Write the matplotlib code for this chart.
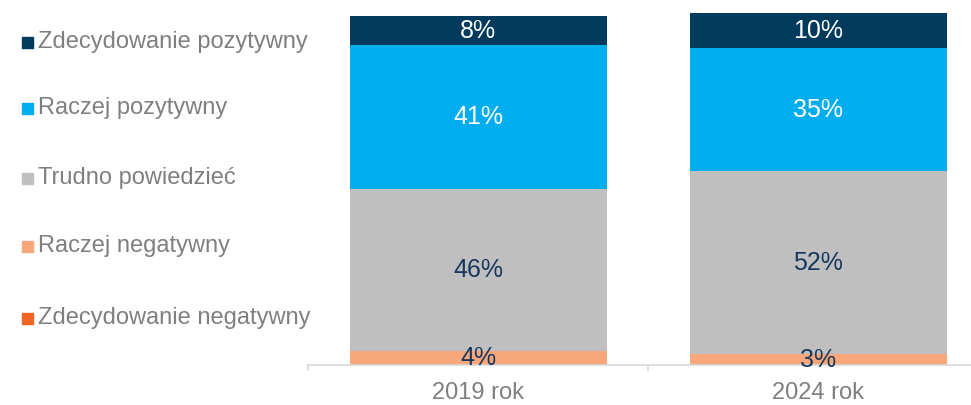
#!/usr/bin/env python3

import numpy as np
import matplotlib
matplotlib.use('Agg')
import matplotlib.pyplot as plt
from matplotlib.patches import Rectangle

plt.rcParams['font.family'] = ['Liberation Sans', 'DejaVu Sans']

years = ['2019 rok', '2024 rok']
categories = ['Zdecydowanie negatywny', 'Raczej negatywny', 'Trudno powiedzieć',
              'Raczej pozytywny', 'Zdecydowanie pozytywny']
zd_neg = [0, 0]
racz_neg = [4, 3]
trudno = [46, 52]
racz_poz = [41, 35]
zd_poz = [8, 10]

series = [zd_neg, racz_neg, trudno, racz_poz, zd_poz]
colors = ['#F26522', '#F7A77A', '#BFBFBF', '#00AEEF', '#003A5D']
txt_colors = ['#17375E', '#17375E', '#17375E', 'white', 'white']

fig = plt.figure(figsize=(9.71, 4.05), dpi=100)
ax = fig.add_axes([0.316, 0.099, 0.684, 0.869])

x = np.arange(len(years))
bottom = np.zeros(len(years))
for vals, c, tc in zip(series, colors, txt_colors):
    vals = np.array(vals, dtype=float)
    ax.bar(x, vals, 0.756, bottom=bottom, color=c, edgecolor='none', zorder=2)
    for xi, v, b in zip(x, vals, bottom):
        if v > 0:
            ax.text(xi, b + v / 2, f'{int(v)}%', ha='center', va='center',
                    fontsize=18, color=tc, zorder=3)
    bottom += vals

ax.set_xlim(-0.504, 1.449)
ax.set_ylim(0, 100)
ax.set_yticks([])
for s in ['top', 'right', 'left']:
    ax.spines[s].set_visible(False)
ax.spines['bottom'].set_color('#D9D9D9')
ax.spines['bottom'].set_linewidth(1.2)
ax.set_xticks(x)
ax.set_xticklabels(years, fontsize=17, color='#7F7F7F')
ax.tick_params(axis='x', length=0, pad=12)
ax.set_xticks([-0.5, 0.5], minor=True)
ax.tick_params(axis='x', which='minor', length=4, color='#D9D9D9', width=1.2)

# legend on the left, top to bottom
leg_y = [42, 108, 178, 246, 318]
for yy, lab, c in zip(leg_y, categories[::-1], colors[::-1]):
    fy = 1 - yy / 405
    fig.patches.append(Rectangle((22 / 971, fy - 5.5 / 405), 11 / 971, 11 / 405,
                                 transform=fig.transFigure, color=c, figure=fig))
    fig.text(38 / 971, fy, lab, fontsize=17, color='#7F7F7F', va='center', ha='left')

fig.savefig('out.png', dpi=100)
